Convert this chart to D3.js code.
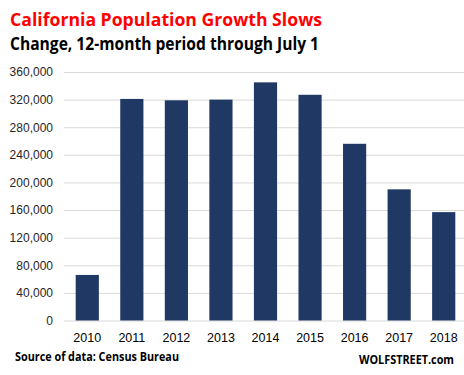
<!DOCTYPE html>
<html lang="en">
<head>
    <meta charset="UTF-8">
    <title>California Population Growth Slows</title>
    <script src="https://cdn.jsdelivr.net/npm/d3@7"></script>
    <style>
        body { margin: 0; background: #fff; }
        svg { display: block; }
    </style>
</head>
<body>
    <svg width="464" height="375"></svg>
    <script>
        // data
        const years = ["2010", "2011", "2012", "2013", "2014", "2015", "2016", "2017", "2018"];
        const growth = [66000, 321000, 319000, 320000, 345000, 327000, 256000, 190000, 157000];
        const yTicks = [0, 40000, 80000, 120000, 160000, 200000, 240000, 280000, 320000, 360000];

        const svg = d3.select("svg");
        const font = "'Liberation Sans', Arial, sans-serif";

        // scales
        const x = d3.scaleBand()
            .domain(years)
            .range([65, 466])
            .paddingInner(0.48)
            .paddingOuter(0.24);
        const y = d3.scaleLinear()
            .domain([0, 360000])
            .range([320.5, 72]);

        // grid lines + y labels
        const yAxis = svg.append("g")
            .attr("transform", "translate(64,0)")
            .call(d3.axisLeft(y).tickValues(yTicks).tickSize(-400).tickPadding(11)
                .tickFormat(d3.format(",")));
        yAxis.select(".domain").remove();
        yAxis.selectAll(".tick line").attr("stroke", "#d9d9d9").attr("stroke-width", 1);
        yAxis.selectAll(".tick text")
            .attr("font-family", font).attr("font-size", 12).attr("fill", "#262626");

        // bars
        svg.append("g").selectAll("rect")
            .data(growth)
            .enter()
            .append("rect")
            .attr("x", (d, i) => x(years[i]))
            .attr("y", d => y(d))
            .attr("width", x.bandwidth())
            .attr("height", d => y(0) - y(d))
            .attr("fill", "#203864");

        // x labels
        const xAxis = svg.append("g")
            .attr("transform", "translate(0,320.5)")
            .call(d3.axisBottom(x).tickSize(0).tickPadding(13));
        xAxis.select(".domain").remove();
        xAxis.selectAll(".tick text")
            .attr("font-family", font).attr("font-size", 12.5).attr("fill", "#000");

        // titles
        svg.append("text")
            .attr("x", 10).attr("y", 26)
            .attr("font-family", "'Open Sans', sans-serif").attr("font-weight", "bold")
            .attr("font-size", 18.5).attr("fill", "#ff0000")
            .attr("textLength", 312).attr("lengthAdjust", "spacingAndGlyphs")
            .text("California Population Growth Slows");
        svg.append("text")
            .attr("x", 10).attr("y", 50)
            .attr("font-family", "'Open Sans', sans-serif").attr("font-weight", "bold")
            .attr("font-size", 17.5).attr("fill", "#000")
            .attr("textLength", 309).attr("lengthAdjust", "spacingAndGlyphs")
            .text("Change, 12-month period through July 1");

        // footer
        svg.append("text")
            .attr("x", 15).attr("y", 361)
            .attr("font-family", "'Open Sans', sans-serif").attr("font-weight", "bold")
            .attr("font-size", 12).attr("fill", "#000")
            .attr("textLength", 164).attr("lengthAdjust", "spacingAndGlyphs")
            .text("Source of data: Census Bureau");
        svg.append("text")
            .attr("x", 359).attr("y", 364)
            .attr("font-family", "'Open Sans', sans-serif").attr("font-weight", "bold")
            .attr("font-size", 12).attr("fill", "#000")
            .attr("textLength", 95).attr("lengthAdjust", "spacingAndGlyphs")
            .text("WOLFSTREET.com");
    </script>
</body>
</html>
